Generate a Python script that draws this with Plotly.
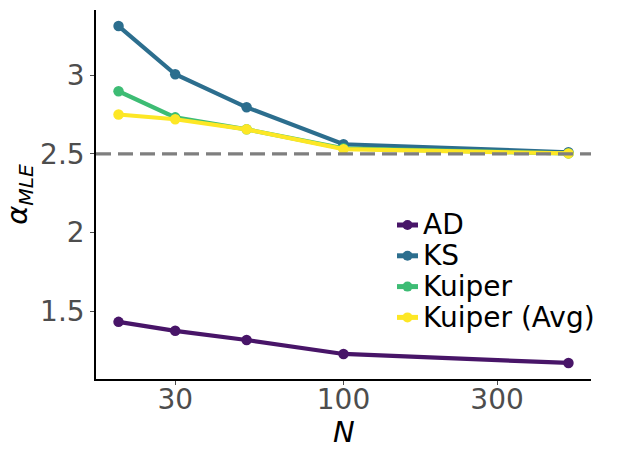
import plotly.graph_objects as go

N = [20, 30, 50, 100, 500]
series_names = ["AD", "KS", "Kuiper", "Kuiper (Avg)"]
ad = [1.433, 1.376, 1.318, 1.229, 1.172]
ks = [3.312, 3.006, 2.796, 2.561, 2.510]
kuiper = [2.898, 2.732, 2.656, 2.535, 2.503]
kuiper_avg = [2.750, 2.720, 2.656, 2.530, 2.503]
colors = ["#481568", "#2c6e8e", "#3dbc74", "#fde725"]
true_alpha = 2.5
x_ticks = [30, 100, 300]
y_ticks = [1.5, 2, 2.5, 3]

W, H = 622, 458
ML, MR, MT, MB = 96, 31, 10, 79
PW, PH = W - ML - MR, H - MT - MB

def px_x(p):
    return (p - ML) / PW

def px_y(p):
    return 1 - (p - MT) / PH

fig = go.Figure()
for name, vals, col in zip(series_names, [ad, ks, kuiper, kuiper_avg], colors):
    fig.add_trace(go.Scatter(
        x=N, y=vals, name=name, mode="lines+markers",
        line=dict(color=col, width=4.2),
        marker=dict(color=col, size=10.5),
        showlegend=False,
    ))

fig.add_hline(y=true_alpha, line=dict(color="#7f7f7f", width=3.2, dash="15px,7px"))

# manual legend (matplotlib-like compact spacing)
leg_x0, leg_x1, leg_text_x = 397, 418, 421
leg_y_start, leg_dy = 225, 30.8
for i, (name, col) in enumerate(zip(series_names, colors)):
    yc = px_y(leg_y_start + i * leg_dy)
    fig.add_shape(type="line", xref="paper", yref="paper",
                  x0=px_x(leg_x0), x1=px_x(leg_x1), y0=yc, y1=yc,
                  line=dict(color=col, width=5))
    fig.add_shape(type="circle", xref="paper", yref="paper",
                  xsizemode="pixel", ysizemode="pixel",
                  xanchor=px_x((leg_x0 + leg_x1) / 2), yanchor=yc,
                  x0=-5, x1=5, y0=-5, y1=5,
                  fillcolor=col, line=dict(color=col, width=0))
    fig.add_annotation(x=px_x(leg_text_x), y=yc, xref="paper", yref="paper",
                       text=name, showarrow=False, xanchor="left", yanchor="middle",
                       font=dict(size=28, color="black"))

# x-axis title
fig.add_annotation(x=0.5, y=px_y(432), xref="paper", yref="paper",
                   text="<i>N</i>", showarrow=False, xanchor="center", yanchor="middle",
                   font=dict(size=29, color="black"))

fig.update_layout(
    width=W, height=H,
    margin=dict(l=ML, r=MR, t=MT, b=MB),
    paper_bgcolor="white", plot_bgcolor="white",
    font=dict(family="DejaVu Sans", color="#4d4d4d"),
    showlegend=False,
    xaxis=dict(
        type="log", range=[1.231, 2.769],
        tickvals=x_ticks, ticktext=[str(v) for v in x_ticks],
        showgrid=False, zeroline=False,
        showline=True, linecolor="black", linewidth=1.5,
        ticks="outside", ticklen=4, tickcolor="#4d4d4d", tickwidth=1,
        tickfont=dict(size=28, color="#4d4d4d"),
        ticklabelstandoff=-9,
    ),
    yaxis=dict(
        range=[1.07, 3.414],
        tickvals=y_ticks, ticktext=["1.5", "2", "2.5", "3"],
        showgrid=False, zeroline=False,
        showline=True, linecolor="black", linewidth=1.5,
        ticks="outside", ticklen=4, tickcolor="#4d4d4d", tickwidth=1,
        tickfont=dict(size=28, color="#4d4d4d"),
        title=dict(text="<i>α</i><sub><i>MLE</i></sub>", font=dict(size=29, color="black"), standoff=6),
    ),
)

fig.write_html("out.html")
